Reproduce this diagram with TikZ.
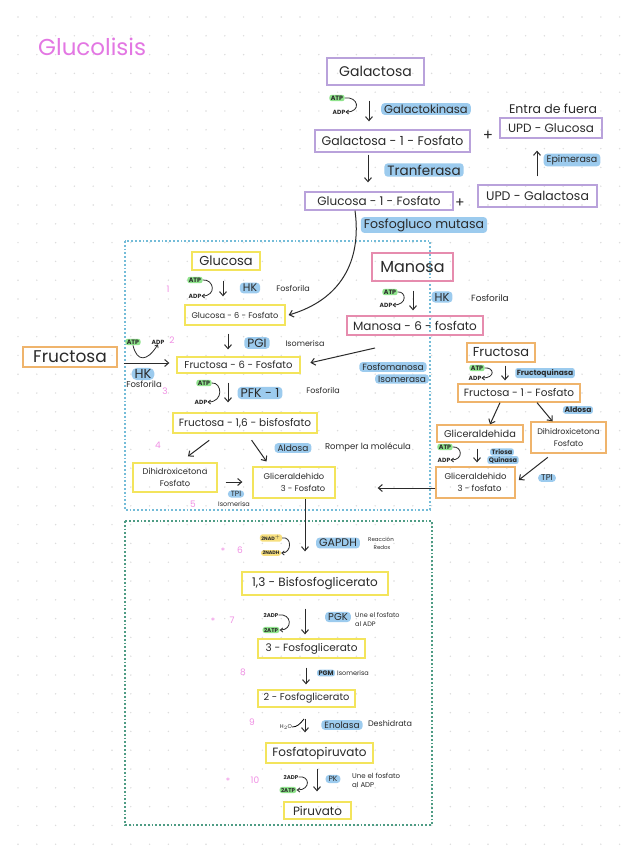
\documentclass[tikz,border=0pt]{standalone}
\usepackage{fontspec}
\setmainfont{Poppins}
\usetikzlibrary{arrows.meta}
\definecolor{cpurple}{HTML}{B9A2DB}
\definecolor{cyellow}{HTML}{F3E45C}
\definecolor{corange}{HTML}{EFB46C}
\definecolor{cpink}{HTML}{E68CAE}
\definecolor{cblue}{HTML}{9CCBEE}
\definecolor{cgreen}{HTML}{8FE38C}
\definecolor{cnad}{HTML}{F7DF7E}
\definecolor{cnum}{HTML}{F08FE4}
\definecolor{ctitle}{HTML}{E377E3}
\definecolor{cbluebox}{HTML}{74BCD8}
\definecolor{cgreenbox}{HTML}{4E9C84}
\definecolor{cgrid}{HTML}{DCDCDC}
\definecolor{cink}{HTML}{2A2A2A}
\newcommand{\fz}[2]{\fontsize{#1}{#2}\selectfont}
\begin{document}
\begin{tikzpicture}[x=1pt,y=-1pt,
  every node/.style={text=cink, inner sep=0pt},
  box/.style={draw, line width=1.3pt, inner sep=2pt, align=center, font=\fz{10}{12}},
  pbox/.style={box, draw=cpurple},
  ybox/.style={box, draw=cyellow},
  obox/.style={box, draw=corange},
  mbox/.style={box, draw=cpink},
  hl/.style={fill=cblue, rounded corners=3.5pt, inner xsep=3pt, inner ysep=1.5pt, font=\fz{10}{12}},
  hls/.style={hl, rounded corners=2.5pt, inner xsep=1.5pt, inner ysep=1pt, font=\fz{6}{7}\bfseries},
  atp/.style={fill=cgreen, rounded corners=2.5pt, inner xsep=1.5pt, inner ysep=1pt, font=\fz{6.3}{7}\bfseries},
  adp/.style={font=\fz{6}{7}\bfseries},
  nad/.style={fill=cnad, rounded corners=2.5pt, inner xsep=1.5pt, inner ysep=1pt, font=\fz{4.8}{5}\bfseries},
  note/.style={font=\fz{8}{9}},
  notes/.style={font=\fz{5.5}{6}},
  num/.style={text=cnum, font=\fz{9}{10}},
  arr/.style={draw=cink, line width=1pt, -{Straight Barb[length=4pt,width=7pt]}},
  carr/.style={draw=cink, line width=0.8pt, -{Straight Barb[length=2.5pt,width=4pt]}},
]
\useasboundingbox (0,0) rectangle (636,848);
\fill[white] (0,0) rectangle (636,848);
\foreach \i in {0,...,32} \foreach \j in {0,...,44}
  \fill[cgrid] (18+18.8*\i, 17+18.8*\j) circle[radius=0.8pt];

% regions
\draw[cbluebox, line width=1.3pt, dash pattern=on 1.8pt off 2pt] (125,241) rectangle (430,510);
\draw[cgreenbox, line width=1.3pt, dash pattern=on 1.8pt off 2pt] (125,521) rectangle (432,825);

% title
\node[text=ctitle, font=\fz{23}{26}, anchor=west] (title) at (38,47) {Glucolisis};

% ---------- galactosa ----------
\node[pbox, minimum width=97, minimum height=27, font=\fz{14}{16}] (gal) at (375.5,71.5) {Galactosa};
\node[atp] (atp1) at (337,98) {ATP};
\node[adp] (adp1) at (339,112) {ADP};
\node[hl, font=\fz{11.5}{13}] (galk) at (426,109) {Galactokinasa};
\node[pbox, minimum width=155, minimum height=22, font=\fz{12.5}{14}] (g1p) at (392.5,141) {Galactosa - 1 - Fosfato};
\node[font=\fz{15}{16}] (plus1) at (488,136) {+};
\node[font=\fz{12.5}{14}] (fuera) at (553,109) {Entra de fuera};
\node[pbox, minimum width=102, minimum height=20, font=\fz{12}{14}] (updglc) at (551,128) {UPD - Glucosa};
\node[pbox, minimum width=119, minimum height=22, font=\fz{12.5}{14}] (updgal) at (537.5,196) {UPD - Galactosa};
\node[hl, font=\fz{9.5}{11}] (epim) at (572,160) {Epimerasa};
\node[pbox, minimum width=148, minimum height=18, font=\fz{12}{14}] (glc1p) at (379,201) {Glucosa - 1 - Fosfato};
\node[hl, font=\fz{13.5}{15}] (transf) at (424,170) {Tranferasa};
\node[font=\fz{14}{15}] (plus2) at (460,203) {+};
\node[hl, font=\fz{12.5}{14}] (fgm) at (424,225) {Fosfogluco mutasa};

% ---------- glucosa ----------
\node[ybox, minimum width=68, minimum height=18, font=\fz{13}{14}] (glc) at (226,261) {Glucosa};
\node[num] (n1) at (168,289) {1};
\node[atp] (atp2) at (195,280) {ATP};
\node[adp] (adp2) at (195,296) {ADP};
\node[hl, font=\fz{11}{12}] (hk1) at (250,288) {HK};
\node[note] (fos1) at (293,288) {Fosforila};
\node[ybox, minimum width=100, minimum height=20, font=\fz{8.2}{9}] (glc6p) at (235,315) {Glucosa - 6 - Fosfato};
\node[hl, font=\fz{12}{13}] (pgi) at (257,343) {PGI};
\node[note] (iso1) at (305,343) {Isomerisa};
\node[ybox, minimum width=123, minimum height=16, font=\fz{10}{11}] (f6p) at (238.5,365) {Fructosa - 6 - Fosfato};

% fructosa left
\node[obox, minimum width=94, minimum height=20, font=\fz{17}{18}] (fru0) at (70,357) {Fructosa};
\node[atp] (atp3) at (133,342) {ATP};
\node[adp] (adp3) at (158,342) {ADP};
\node[num] (n2) at (172,340) {2};
\node[hl, font=\fz{13}{14}, rounded corners=5pt] (hk2) at (143,374) {HK};
\node[note, font=\fz{8.5}{9}] (fos2) at (144,384) {Fosforila};
\node[num] (n3) at (165,391) {3};

% PFK
\node[atp] (atp4) at (204,383) {ATP};
\node[adp] (adp4) at (201,402) {ADP};
\node[hl, font=\fz{12.5}{14}] (pfk) at (260,393) {PFK - 1};
\node[note] (fos3) at (323,390) {Fosforila};
\node[ybox, minimum width=144, minimum height=20, font=\fz{10.5}{12}] (fbp) at (245,423) {Fructosa - 1,6 - bisfosfato};
\node[num] (n4) at (158,445) {4};
\node[ybox, minimum width=84, minimum height=29, font=\fz{8.3}{12}] (dhap) at (175,477.5) {Dihidroxicetona\\Fosfato};
\node[ybox, minimum width=82, minimum height=31, font=\fz{8.3}{12}] (gap3p) at (294,482.5) {Gliceraldehido\\\hspace*{18pt}3 - Fosfato};
\node[hl, font=\fz{9}{10}] (ald1) at (293,448) {Aldosa};
\node[note, font=\fz{8.5}{9}] (romp) at (368,447) {Romper la molécula};
\node[hl, font=\fz{7.5}{8}, inner ysep=1pt] (tpi1) at (236,494) {TPI};
\node[notes, font=\fz{6.5}{7}] (iso2) at (234,504) {Isomerisa};
\node[num] (n5) at (193,504) {5};

% ---------- manosa ----------
\node[mbox, minimum width=81, minimum height=28, font=\fz{16}{17}] (man) at (412.5,267) {Manosa};
\node[atp] (atp5) at (390,292) {ATP};
\node[adp] (adp5) at (386,305) {ADP};
\node[hl, font=\fz{11.5}{12}] (hk3) at (442,297) {HK};
\node[note, font=\fz{9}{10}] (fos4) at (490,298) {Fosforila};
\node[mbox, minimum width=136, minimum height=19, font=\fz{12}{13}] (m6p) at (415,325.5) {Manosa - 6 - fosfato};
\coordinate (m6pout) at (375,348);
\node[hl, font=\fz{9}{10}] (pmi1) at (393,367) {Fosfomanosa};
\node[hl, font=\fz{9}{10}] (pmi2) at (402,379) {Isomerasa};

% ---------- fructosa (higado) ----------
\node[obox, minimum width=68, minimum height=19, font=\fz{13}{14}] (fru1) at (501,352.5) {Fructosa};
\node[atp] (atp6) at (477,368) {ATP};
\node[adp] (adp6) at (475,378) {ADP};
\node[hls, font=\fz{7.5}{8}\bfseries] (fk) at (545,373) {Fructoquinasa};
\node[obox, minimum width=122, minimum height=18, font=\fz{10.5}{12}] (f1p) at (519,393) {Fructosa - 1 - Fosfato};
\node[obox, minimum width=86, minimum height=17, font=\fz{9.8}{11}] (glyald) at (480,433.5) {Gliceraldehida};
\node[obox, minimum width=75, minimum height=31, font=\fz{8}{12}] (dhap2) at (568.5,437.5) {Dihidroxicetona\\Fosfato};
\node[hls, font=\fz{7.5}{8}\bfseries] (ald2) at (578,410) {Aldosa};
\node[atp] (atp7) at (445,447) {ATP};
\node[adp] (adp7) at (444,460) {ADP};
\node[hls, font=\fz{6.5}{7}\bfseries] (tq1) at (502,452) {Triosa};
\node[hls, font=\fz{6.5}{7}\bfseries] (tq2) at (503,460) {Quinasa};
\node[obox, minimum width=79, minimum height=31, font=\fz{8.5}{12}] (gap3p2) at (475.5,482.5) {Gliceraldehido\\\hspace*{8pt}3 - fosfato};
\node[hl, font=\fz{8.5}{9}, inner ysep=1pt] (tpi2) at (547,478) {TPI};

% ---------- fase 2 ----------
\node[ybox, minimum width=146, minimum height=23, font=\fz{12}{14}] (bpg) at (315,583.5) {1,3 - Bisfosfoglicerato};
\node[nad] (nad1) at (271,538) {2NAD$^{+}$};
\node[nad] (nad2) at (271,553) {2NADH};
\node[hl, font=\fz{11}{12}] (gapdh) at (338,543) {GAPDH};
\node[notes] (redox1) at (381,539) {Reacción};
\node[notes] (redox2) at (382,547) {Redox};
\node[num] (s6) at (223,551) {*};
\node[num] (n6) at (240,550) {6};

\node[num] (s7) at (213,621) {*};
\node[num] (n7) at (232,620) {7};
\node[adp, font=\fz{5.5}{6}\bfseries] (adp8) at (271,615) {2ADP};
\node[atp, font=\fz{5.5}{6}\bfseries] (atp8) at (271,630) {2ATP};
\node[ybox, minimum width=107, minimum height=19, font=\fz{10.5}{12}] (pg3) at (311.5,648.5) {3 - Fosfoglicerato};
\node[hl, font=\fz{10}{11}] (pgk) at (338,617) {PGK};
\node[notes, font=\fz{6.5}{7}, anchor=west] (une1) at (355,615) {Une el fosfato};
\node[notes, font=\fz{6.5}{7}, anchor=west] (une2) at (355,624) {al ADP};

\node[num] (n8) at (243,672) {8};
\node[ybox, minimum width=97, minimum height=17, font=\fz{9.8}{11}] (pg2) at (306.5,698.5) {2 - Fosfoglicerato};
\node[hls, font=\fz{6.5}{7}\bfseries] (pgm) at (326,673) {PGM};
\node[note, font=\fz{6.5}{7}] (iso3) at (353,673) {Isomerisa};

\node[num] (n9) at (252,722) {9};
\node[notes] (h2o) at (286,727) {H$_2$O};
\node[ybox, minimum width=107, minimum height=20, font=\fz{12}{13}] (pep) at (319.5,753) {Fosfatopiruvato};
\node[hl, font=\fz{9}{10}] (eno) at (342,725) {Enolasa};
\node[note, font=\fz{8}{9}] (desh) at (390,723) {Deshidrata};

\node[num] (s10) at (228,781) {*};
\node[num] (n10) at (255,780) {10};
\node[adp, font=\fz{5.5}{6}\bfseries] (adp9) at (291,777) {2ADP};
\node[atp, font=\fz{5.5}{6}\bfseries] (atp9) at (288,790) {2ATP};
\node[ybox, minimum width=67, minimum height=17, font=\fz{12}{13}] (pyr) at (317.5,810.5) {Piruvato};
\node[hl, font=\fz{7.5}{8}] (pk) at (333,779) {PK};
\node[notes, font=\fz{7}{7}, anchor=west] (une3) at (352,776) {Une el fosfato};
\node[notes, font=\fz{7}{7}, anchor=west] (une4) at (352,785) {al ADP};

% ================= connectors =================
\draw[carr] (atp1.east) .. controls (358,96) and (362,112) .. (adp1.east);
\draw[arr, shorten <=15pt, shorten >=8pt] (369,0 |- gal.south) -- (369,0 |- g1p.north);
\draw[arr, shorten <=8pt, shorten >=12pt] (537,0 |- updgal.north) -- (537,0 |- updglc.south);
\draw[arr, shorten <=2pt, shorten >=9pt] (368,0 |- g1p.south) -- (368,0 |- glc1p.north);

\draw[carr] (atp2.east) .. controls (214,279) and (217,296) .. (adp2.east);
\draw[arr, shorten <=10pt, shorten >=8pt] (223,0 |- glc.south) -- (223,0 |- glc6p.north);
\draw[arr] (355,0 |- glc1p.south) .. controls (362,262) and (340,300) .. ([xshift=3pt]glc6p.east);
\draw[arr, shorten <=8pt, shorten >=7pt] (228,0 |- glc6p.south) -- (228,0 |- f6p.north);

\draw[arr, shorten <=6pt, shorten >=7pt] (fru0.east |- 0,363) -- (f6p.west |- 0,363);
\draw[carr] (atp3.south) .. controls (137,362) and (147,362) .. (adp3.south);

\draw[carr] (atp4.east) .. controls (222,382) and (224,402) .. (adp4.east);
\draw[arr, shorten <=9pt, shorten >=10pt] (228,0 |- f6p.south) -- (228,0 |- fbp.north);
\draw[arr, shorten <=11pt, shorten >=10pt] ([xshift=-27pt]fbp.south) -- ([xshift=5pt]dhap.north);
\draw[arr, shorten <=8pt, shorten >=6pt] ([xshift=2pt]fbp.south) -- ([xshift=-24pt]gap3p.north);
\draw[arr, shorten <=8pt, shorten >=10pt] (dhap.east |- 0,482) -- (gap3p.west |- 0,482);

\draw[carr] (atp5.east) .. controls (406,291) and (408,305) .. (adp5.east);
\draw[arr, shorten <=9pt, shorten >=5pt] (413,0 |- man.south) -- (413,0 |- m6p.north);
\draw[arr, shorten >=10pt] (m6pout) -- (f6p.east);

\draw[carr] (atp6.east) .. controls (494,367) and (496,378) .. (adp6.east);
\draw[arr, shorten <=3pt, shorten >=3pt] (505,0 |- fru1.south) -- (505,0 |- f1p.north);
\draw[arr] ([xshift=-19pt]f1p.south) -- ([xshift=10pt]glyald.north);
\draw[arr] ([xshift=18pt]f1p.south) -- ([xshift=-16pt]dhap2.north);
\draw[carr] (atp7.east) .. controls (462,446) and (464,460) .. (adp7.east);
\draw[arr, shorten <=6pt, shorten >=4pt] (477,0 |- glyald.south) -- (477,0 |- gap3p2.north);
\draw[arr, shorten <=6pt, shorten >=4pt] ([xshift=-16pt]dhap2.south) -- (gap3p2.east);
\draw[arr, shorten >=42pt] (gap3p2.west |- 0,488) -- (gap3p.east |- 0,488);

\draw[arr, shorten >=20pt] (305,0 |- gap3p.south) -- (305,0 |- bpg.north);
\draw[carr] (nad1.east) .. controls (292,536) and (292,553) .. (nad2.east);
\draw[carr] (adp8.east) .. controls (292,613) and (293,630) .. (atp8.east);
\draw[arr, shorten <=13pt, shorten >=4pt] (305,0 |- bpg.south) -- (305,0 |- pg3.north);
\draw[arr, shorten <=9pt, shorten >=5pt] (306,0 |- pg3.south) -- (306,0 |- pg2.north);
\draw[line width=0.8pt] (h2o.east) .. controls (297,727) and (300,724) .. (304,719);
\draw[arr, shorten <=11pt, shorten >=10pt] (305,0 |- pg2.south) -- (305,0 |- pep.north);
\draw[carr] (adp9.east) .. controls (310,775) and (311,790) .. (atp9.east);
\draw[arr, shorten <=5pt, shorten >=10pt] (317,0 |- pep.south) -- (317,0 |- pyr.north);
\end{tikzpicture}
\end{document}
